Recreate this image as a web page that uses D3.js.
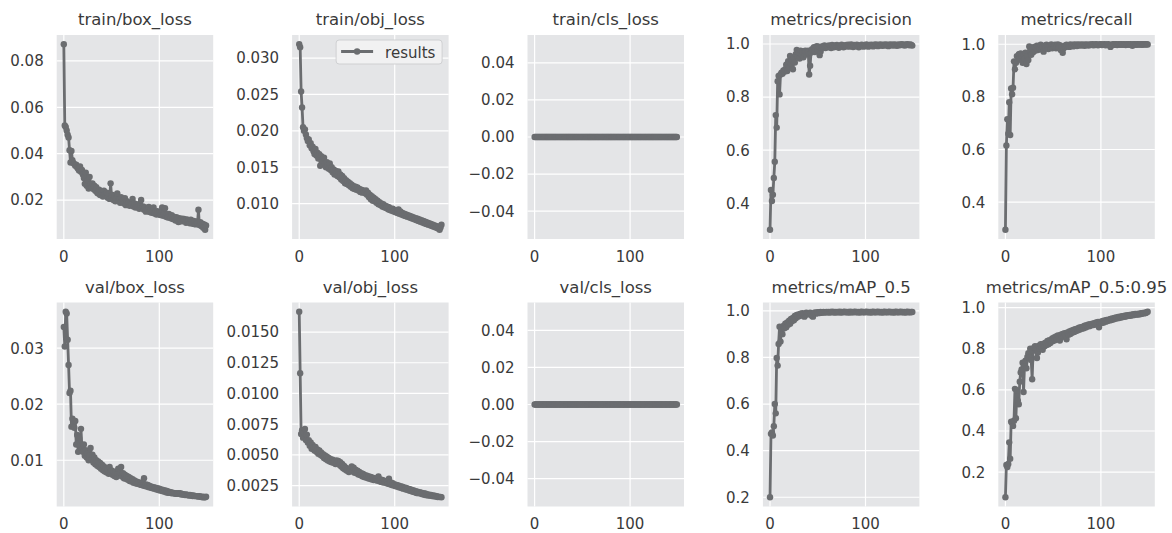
<!DOCTYPE html>
<html>
<head>
<meta charset="utf-8">
<script src="https://cdn.jsdelivr.net/npm/d3@7"></script>
<style>
body { margin: 0; background: #fff; }
svg text { font-family: "DejaVu Sans", sans-serif; fill: #3a3a3a; }
</style>
</head>
<body>
<svg id="chart" width="1172" height="533"></svg>
<script>
// values, one per epoch (0..149)
let trainBoxLoss = [
 .0872,
 .0522,.0515,.0500,.0482,.0470,.0415,.0362,.0412,.0372,.0360,
 .0355,.0348,.0352,.0340,.0335,.0328,.0345,.0322,.0330,.0310,
 .0295,.0270,.0318,.0262,.0285,.0250,.0300,.0268,.0255,.0272,
 .0248,.0262,.0240,.0255,.0232,.0228,.0245,.0222,.0238,.0230,
 .0215,.0240,.0225,.0218,.0232,.0210,.0226,.0205,.0272,.0218,
 .0222,.0200,.0215,.0195,.0210,.0228,.0198,.0205,.0188,.0212,
 .0192,.0200,.0185,.0208,.0178,.0195,.0182,.0190,.0175,.0188,
 .0180,.0205,.0172,.0185,.0168,.0178,.0170,.0182,.0162,.0175,
 .0200,.0165,.0172,.0158,.0168,.0150,.0162,.0155,.0170,.0148,
 .0160,.0145,.0155,.0168,.0142,.0150,.0138,.0152,.0140,.0146,
 .0135,.0148,.0168,.0132,.0142,.0165,.0128,.0138,.0125,.0140,
 .0130,.0122,.0135,.0118,.0128,.0120,.0112,.0126,.0118,.0105,
 .0122,.0115,.0108,.0120,.0112,.0118,.0110,.0102,.0116,.0108,
 .0112,.0100,.0115,.0105,.0098,.0110,.0102,.0095,.0108,.0100,
 .0158,.0092,.0105,.0088,.0098,.0080,.0095,.0072,.0090
];
let trainObjLoss = [
 .0319,
 .0315,.0254,.0232,.0205,.0200,.0202,.0195,.0190,.0186,.0188,
 .0180,.0183,.0176,.0178,.0172,.0168,.0175,.0166,.0170,.0162,
 .0168,.0152,.0165,.0160,.0158,.0163,.0155,.0150,.0157,.0152,
 .0148,.0155,.0146,.0150,.0143,.0147,.0140,.0145,.0142,.0138,
 .0144,.0136,.0140,.0133,.0138,.0131,.0135,.0128,.0132,.0127,
 .0130,.0125,.0128,.0123,.0126,.0121,.0124,.0120,.0123,.0119,
 .0122,.0118,.0120,.0116,.0119,.0115,.0118,.0117,.0114,.0118,
 .0112,.0115,.0109,.0112,.0106,.0110,.0104,.0108,.0103,.0106,
 .0101,.0104,.0099,.0102,.0098,.0100,.0096,.0099,.0095,.0097,
 .0094,.0096,.0092,.0095,.0091,.0093,.0090,.0093,.0089,.0091,
 .0088,.0090,.0087,.0092,.0086,.0089,.0085,.0087,.0084,.0086,
 .0083,.0085,.0082,.0084,.0081,.0083,.0080,.0082,.0079,.0081,
 .0078,.0080,.0077,.0079,.0076,.0078,.0075,.0077,.0074,.0076,
 .0073,.0075,.0072,.0074,.0071,.0073,.0070,.0072,.0069,.0071,
 .0068,.0070,.0067,.0069,.0066,.0068,.0064,.0067,.0071
];
let trainClsLoss = [
 0,0,0,0,0,0,0,0,0,0,0,0,0,0,0,0,0,0,0,0,0,0,0,0,0,0,0,0,0,0,
 0,0,0,0,0,0,0,0,0,0,0,0,0,0,0,0,0,0,0,0,0,0,0,0,0,0,0,0,0,0,
 0,0,0,0,0,0,0,0,0,0,0,0,0,0,0,0,0,0,0,0,0,0,0,0,0,0,0,0,0,0,
 0,0,0,0,0,0,0,0,0,0,0,0,0,0,0,0,0,0,0,0,0,0,0,0,0,0,0,0,0,0,
 0,0,0,0,0,0,0,0,0,0,0,0,0,0,0,0,0,0,0,0,0,0,0,0,0,0,0,0,0,0
];
let precision = [
 .300,
 .450,.408,.432,.495,.556,.732,.685,.860,.880,.810,
 .885,.892,.888,.900,.895,.905,.922,.898,.935,.910,
 .955,.925,.940,.905,.948,.930,.962,.978,.952,.968,
 .945,.975,.960,.972,.950,.965,.975,.960,.970,.975,
 .885,.918,.968,.980,.975,.988,.970,.985,.992,.978,
 .990,.958,.972,.985,.992,.988,.995,.985,.990,.993,
 .988,.995,.990,.985,.996,.992,.988,.995,.990,.996,
 .992,.986,.994,.990,.997,.993,.988,.995,.991,.996,
 .992,.997,.990,.994,.998,.993,.989,.996,.994,.991,
 .997,.993,.988,.995,.992,.997,.994,.990,.996,.993,
 .998,.994,.990,.996,.993,.997,.995,.991,.997,.994,
 .998,.995,.992,.997,.994,.998,.995,.993,.997,.995,
 .998,.994,.997,.992,.996,.998,.995,.997,.994,.998,
 .995,.997,.993,.996,.998,.995,.997,.999,.996,.997,
 .994,.998,.996,.999,.997,.995,.998,.996,.994
];
let recall = [
 .295,
 .615,.715,.660,.780,.655,.832,.810,.835,.935,.905,
 .930,.955,.940,.962,.945,.965,.955,.930,.960,.945,
 .968,.925,.955,.940,.992,.975,.960,.985,.970,.990,
 .975,.985,.995,.978,.992,.985,.998,.980,.990,.972,
 .995,.985,.998,.990,.982,.995,.988,.999,.985,.995,
 .990,.998,.985,.992,.999,.988,.996,.978,.990,.968,
 .985,.995,.990,.998,.992,.996,.990,.999,.994,.997,
 .992,.999,.995,.998,.993,.999,.996,.998,.995,.999,
 .996,.998,.994,.999,.997,.998,.995,.999,.997,.998,
 1.0,.996,.999,.997,1.0,.998,.996,.999,.998,1.0,
 .997,.999,.998,1.0,.996,.999,.998,1.0,.997,.990,
 .995,.999,1.0,.998,.999,1.0,.997,.999,1.0,.998,
 1.0,.999,.998,1.0,.999,.997,1.0,.999,1.0,.998,
 1.0,.999,.994,1.0,.999,1.0,.998,1.0,.999,1.0,
 .999,1.0,.998,1.0,1.0,.999,1.0,1.0,.999
];
let valBoxLoss = [
 .0338,
 .0303,.0365,.0362,.0315,.0270,.0220,.0224,.0160,.0174,.0165,
 .0158,.0170,.0128,.0145,.0115,.0140,.0125,.0156,.0120,.0115,
 .0128,.0108,.0118,.0105,.0112,.0100,.0108,.0122,.0102,.0110,
 .0096,.0105,.0093,.0100,.0090,.0098,.0088,.0095,.0085,.0092,
 .0082,.0089,.0080,.0086,.0078,.0084,.0076,.0088,.0079,.0082,
 .0074,.0080,.0072,.0078,.0070,.0076,.0085,.0073,.0079,.0088,
 .0071,.0077,.0068,.0074,.0067,.0072,.0065,.0070,.0063,.0068,
 .0062,.0066,.0060,.0064,.0059,.0062,.0058,.0061,.0057,.0060,
 .0056,.0059,.0055,.0068,.0054,.0057,.0053,.0056,.0052,.0054,
 .0051,.0053,.0050,.0052,.0049,.0051,.0048,.0050,.0047,.0049,
 .0046,.0048,.0045,.0047,.0044,.0046,.0043,.0045,.0042,.0044,
 .0042,.0043,.0041,.0042,.0041,.0041,.0040,.0041,.0040,.0041,
 .0040,.0041,.0039,.0040,.0039,.0039,.0038,.0039,.0038,.0038,
 .0037,.0038,.0037,.0037,.0036,.0037,.0036,.0036,.0036,.0036,
 .0035,.0036,.0035,.0035,.0034,.0035,.0034,.0034,.0035
];
let valObjLoss = [
 .01665,
 .01165,.00670,.00700,.00640,.00685,.00710,.00620,.00665,.00600,.00620,
 .00575,.00600,.00550,.00580,.00560,.00535,.00565,.00525,.00545,.00510,
 .00535,.00500,.00520,.00490,.00505,.00475,.00495,.00465,.00485,.00455,
 .00475,.00445,.00465,.00440,.00460,.00435,.00450,.00425,.00455,.00435,
 .00450,.00420,.00440,.00405,.00425,.00390,.00410,.00380,.00395,.00370,
 .00385,.00360,.00375,.00390,.00405,.00365,.00395,.00355,.00380,.00350,
 .00370,.00340,.00360,.00335,.00350,.00325,.00345,.00320,.00335,.00315,
 .00330,.00310,.00325,.00305,.00320,.00300,.00315,.00295,.00310,.00295,
 .00305,.00290,.00325,.00285,.00300,.00280,.00295,.00275,.00290,.00280,
 .00270,.00285,.00265,.00305,.00260,.00275,.00255,.00270,.00250,.00260,
 .00245,.00255,.00240,.00250,.00235,.00245,.00230,.00240,.00225,.00235,
 .00220,.00230,.00215,.00225,.00210,.00220,.00205,.00215,.00200,.00210,
 .00195,.00205,.00190,.00200,.00188,.00195,.00185,.00192,.00180,.00188,
 .00175,.00185,.00172,.00180,.00170,.00176,.00168,.00174,.00165,.00170,
 .00162,.00168,.00160,.00164,.00157,.00160,.00156,.00158,.00155
];
let valClsLoss = [
 0,0,0,0,0,0,0,0,0,0,0,0,0,0,0,0,0,0,0,0,0,0,0,0,0,0,0,0,0,0,
 0,0,0,0,0,0,0,0,0,0,0,0,0,0,0,0,0,0,0,0,0,0,0,0,0,0,0,0,0,0,
 0,0,0,0,0,0,0,0,0,0,0,0,0,0,0,0,0,0,0,0,0,0,0,0,0,0,0,0,0,0,
 0,0,0,0,0,0,0,0,0,0,0,0,0,0,0,0,0,0,0,0,0,0,0,0,0,0,0,0,0,0,
 0,0,0,0,0,0,0,0,0,0,0,0,0,0,0,0,0,0,0,0,0,0,0,0,0,0,0,0,0,0
];
let map50 = [
 .200,
 .472,.478,.465,.505,.600,.560,.798,.765,.858,.932,
 .868,.918,.900,.935,.925,.945,.930,.950,.940,.958,
 .945,.965,.955,.970,.960,.978,.968,.982,.975,.985,
 .978,.988,.982,.990,.985,.975,.988,.992,.984,.990,
 .986,.992,.988,.978,.975,.990,.993,.988,.992,.994,
 .990,.993,.995,.992,.994,.995,.993,.994,.995,.994,
 .995,.993,.995,.994,.996,.994,.995,.993,.995,.994,
 .995,.994,.996,.993,.995,.994,.995,.996,.994,.995,
 .994,.995,.993,.996,.994,.995,.994,.995,.996,.994,
 .995,.994,.995,.993,.995,.996,.994,.995,.994,.995,
 .996,.994,.995,.994,.995,.993,.995,.996,.994,.995,
 .994,.995,.996,.994,.995,.994,.995,.993,.995,.996,
 .994,.995,.994,.995,.996,.994,.995,.994,.995,.993,
 .995,.996,.994,.995,.994,.995,.996,.994,.995,.994,
 .995,.993,.995,.996,.994,.995,.994,.995,.995
];
let map5095 = [
 .078,
 .235,.225,.240,.345,.265,.445,.440,.425,.450,.605,
 .462,.598,.548,.530,.640,.685,.700,.732,.590,.718,
 .742,.705,.760,.778,.758,.800,.745,.652,.790,.805,
 .812,.798,.755,.782,.815,.800,.822,.808,.795,.825,
 .812,.830,.818,.838,.822,.842,.828,.835,.850,.838,
 .855,.842,.860,.848,.865,.852,.840,.868,.858,.872,
 .860,.876,.864,.846,.880,.868,.884,.872,.888,.878,
 .892,.882,.895,.886,.898,.890,.902,.894,.905,.898,
 .908,.900,.912,.904,.915,.908,.918,.910,.920,.914,
 .922,.916,.925,.918,.928,.920,.930,.905,.926,.932,
 .925,.935,.928,.938,.932,.940,.935,.942,.938,.945,
 .940,.948,.943,.950,.946,.952,.948,.955,.950,.956,
 .952,.958,.954,.960,.956,.962,.958,.963,.960,.965,
 .961,.966,.963,.968,.964,.969,.966,.970,.967,.971,
 .968,.973,.970,.974,.972,.976,.974,.978,.980
];

let titles = ['train/box_loss', 'train/obj_loss', 'train/cls_loss', 'metrics/precision', 'metrics/recall',
              'val/box_loss', 'val/obj_loss', 'val/cls_loss', 'metrics/mAP_0.5', 'metrics/mAP_0.5:0.95'];
let series = [trainBoxLoss, trainObjLoss, trainClsLoss, precision, recall,
              valBoxLoss, valObjLoss, valClsLoss, map50, map5095];
let yTicks = [
  [0.02, 0.04, 0.06, 0.08],
  [0.010, 0.015, 0.020, 0.025, 0.030],
  [-0.04, -0.02, 0, 0.02, 0.04],
  [0.4, 0.6, 0.8, 1.0],
  [0.4, 0.6, 0.8, 1.0],
  [0.01, 0.02, 0.03],
  [0.0025, 0.0050, 0.0075, 0.0100, 0.0125, 0.0150],
  [-0.04, -0.02, 0, 0.02, 0.04],
  [0.2, 0.4, 0.6, 0.8, 1.0],
  [0.2, 0.4, 0.6, 0.8, 1.0]
];
let tickFormats = ['.2f', '.3f', '.2f', '.1f', '.1f', '.2f', '.4f', '.2f', '.1f', '.1f'];
let xTicks = [0, 100];

const lineColor = '#6b6d70';
const panelBg = '#e4e5e7';
const plotW = 156.5, plotH = 204;
const colLeft = [56.7, 292.1, 527.5, 762.9, 998.3];
const rowTop = [35, 302.5];

const svg = d3.select('#chart');

series.forEach((values, i) => {
    let col = i % 5, row = Math.floor(i / 5);
    let g = svg.append('g')
        .attr('transform', `translate(${colLeft[col]},${rowTop[row]})`);

    let n = values.length;
    let x = d3.scaleLinear()
        .domain([-0.05 * (n - 1), (n - 1) * 1.05])
        .range([0, plotW]);

    let [lo, hi] = d3.extent(values);
    if (lo === hi) { lo -= 0.05; hi += 0.05; } // constant series, like matplotlib
    let pad = (hi - lo) * 0.05;
    let y = d3.scaleLinear().domain([lo - pad, hi + pad]).range([plotH, 0]);

    g.append('rect')
        .attr('width', plotW).attr('height', plotH)
        .attr('fill', panelBg);

    // grid
    g.selectAll('line.hgrid').data(yTicks[i]).join('line')
        .attr('class', 'hgrid')
        .attr('x1', 0).attr('x2', plotW)
        .attr('y1', d => y(d)).attr('y2', d => y(d))
        .attr('stroke', '#fff').attr('stroke-width', 1.2);
    g.selectAll('line.vgrid').data(xTicks).join('line')
        .attr('class', 'vgrid')
        .attr('y1', 0).attr('y2', plotH)
        .attr('x1', d => x(d)).attr('x2', d => x(d))
        .attr('stroke', '#fff').attr('stroke-width', 1.2);

    // tick labels
    let fmt = d3.format(tickFormats[i]);
    g.selectAll('text.ytick').data(yTicks[i]).join('text')
        .attr('class', 'ytick')
        .attr('x', -13).attr('y', d => y(d))
        .attr('dy', '0.36em')
        .attr('text-anchor', 'end')
        .attr('font-size', 15)
        .text(d => fmt(d));
    g.selectAll('text.xtick').data(xTicks).join('text')
        .attr('class', 'xtick')
        .attr('x', d => x(d)).attr('y', plotH + 22.5)
        .attr('text-anchor', 'middle')
        .attr('font-size', 15)
        .text(d => d);

    g.append('text')
        .attr('x', plotW / 2).attr('y', -10)
        .attr('text-anchor', 'middle')
        .attr('font-size', 16.5)
        .text(titles[i]);

    // the results line with dot markers
    let line = d3.line().x((d, j) => x(j)).y(d => y(d));
    g.append('path')
        .datum(values)
        .attr('d', line)
        .attr('fill', 'none')
        .attr('stroke', lineColor)
        .attr('stroke-width', 2.8)
        .attr('stroke-linejoin', 'round');
    g.selectAll('circle').data(values).join('circle')
        .attr('cx', (d, j) => x(j))
        .attr('cy', d => y(d))
        .attr('r', 3.2)
        .attr('fill', lineColor);

    if (i === 1) {
        let leg = g.append('g').attr('transform', 'translate(44,5)');
        leg.append('rect')
            .attr('width', 106).attr('height', 24).attr('rx', 3)
            .attr('fill', '#f1f1f2').attr('stroke', '#cfd0d2');
        leg.append('line')
            .attr('x1', 5).attr('x2', 37).attr('y1', 11.5).attr('y2', 11.5)
            .attr('stroke', lineColor).attr('stroke-width', 2.8);
        leg.append('circle').attr('cx', 21).attr('cy', 11.5).attr('r', 3.2).attr('fill', lineColor);
        leg.append('text')
            .attr('x', 49).attr('y', 17.5)
            .attr('font-size', 15)
            .text('results');
    }
});
</script>
</body>
</html>
